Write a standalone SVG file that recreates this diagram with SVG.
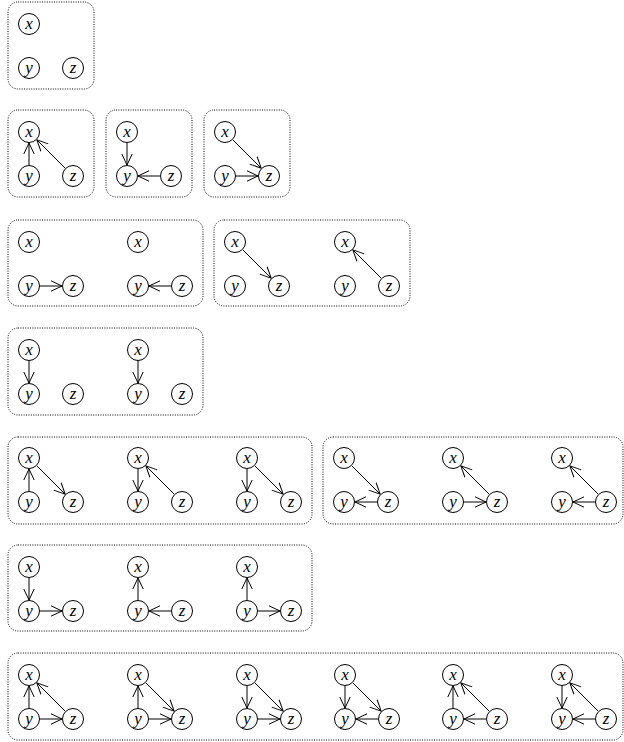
<svg xmlns="http://www.w3.org/2000/svg" width="624" height="742" viewBox="0 0 624 742">
<style>
.box{fill:none;stroke:#000;stroke-width:1;stroke-dasharray:1 1.4}
.n circle{fill:#fff;stroke:#000;stroke-width:1}
.n text{font-family:"Liberation Serif","Times New Roman",serif;font-style:italic;font-size:17px;text-anchor:middle;fill:#000}
.e line{stroke:#000;stroke-width:1;marker-end:url(#ah)}
</style>
<defs>
<marker id="ah" markerUnits="userSpaceOnUse" markerWidth="14" markerHeight="14" viewBox="0 0 14 14" refX="11" refY="7" orient="auto">
<path d="M0,1.8 L11,7 L0,12.2" fill="none" stroke="#000" stroke-width="1"/>
</marker>
<g id="nx" class="n"><circle cx="0" cy="0" r="10.5"/><text x="0" y="4.5" font-family="Liberation Serif, serif" font-style="italic">x</text></g>
<g id="ny" class="n"><circle cx="0" cy="44" r="10.5"/><text x="0" y="48.5" font-family="Liberation Serif, serif" font-style="italic">y</text></g>
<g id="nz" class="n"><circle cx="44" cy="44" r="10.5"/><text x="44" y="48.5" font-family="Liberation Serif, serif" font-style="italic">z</text></g>
</defs>

<g id="boxes">
<rect class="box" x="8" y="2" width="86" height="87" rx="10"/>
<rect class="box" x="8" y="110" width="86" height="87" rx="10"/>
<rect class="box" x="106" y="110" width="86" height="87" rx="10"/>
<rect class="box" x="204" y="110" width="86" height="87" rx="10"/>
<rect class="box" x="8" y="220" width="195" height="86" rx="10"/>
<rect class="box" x="214" y="220" width="196" height="86" rx="10"/>
<rect class="box" x="8" y="328" width="195" height="87" rx="10"/>
<rect class="box" x="8" y="437" width="304" height="87" rx="10"/>
<rect class="box" x="323" y="437" width="300" height="87" rx="10"/>
<rect class="box" x="8" y="545" width="304" height="86" rx="10"/>
<rect class="box" x="8" y="653" width="615" height="87" rx="10"/>
</g>

<g id="connectors" class="e">
<!-- row 2 -->
<g transform="translate(29,132)"><line x1="0" y1="33" x2="0" y2="11"/><line x1="36.2" y1="36.2" x2="7.8" y2="7.8"/></g>
<g transform="translate(127,132)"><line x1="0" y1="11" x2="0" y2="33"/><line x1="33" y1="44" x2="11" y2="44"/></g>
<g transform="translate(225,132)"><line x1="7.8" y1="7.8" x2="36.2" y2="36.2"/><line x1="11" y1="44" x2="33" y2="44"/></g>
<!-- row 3 -->
<g transform="translate(29,242)"><line x1="11" y1="44" x2="33" y2="44"/></g>
<g transform="translate(138,242)"><line x1="33" y1="44" x2="11" y2="44"/></g>
<g transform="translate(235,242)"><line x1="7.8" y1="7.8" x2="36.2" y2="36.2"/></g>
<g transform="translate(345,242)"><line x1="36.2" y1="36.2" x2="7.8" y2="7.8"/></g>
<!-- row 4 -->
<g transform="translate(29,350)"><line x1="0" y1="11" x2="0" y2="33"/></g>
<g transform="translate(138,350)"><line x1="0" y1="11" x2="0" y2="33"/></g>
<!-- row 5 -->
<g transform="translate(29,458)"><line x1="0" y1="33" x2="0" y2="11"/><line x1="7.8" y1="7.8" x2="36.2" y2="36.2"/></g>
<g transform="translate(138,458)"><line x1="0" y1="11" x2="0" y2="33"/><line x1="36.2" y1="36.2" x2="7.8" y2="7.8"/></g>
<g transform="translate(247,458)"><line x1="0" y1="11" x2="0" y2="33"/><line x1="7.8" y1="7.8" x2="36.2" y2="36.2"/></g>
<g transform="translate(344,458)"><line x1="7.8" y1="7.8" x2="36.2" y2="36.2"/><line x1="33" y1="44" x2="11" y2="44"/></g>
<g transform="translate(453,458)"><line x1="36.2" y1="36.2" x2="7.8" y2="7.8"/><line x1="11" y1="44" x2="33" y2="44"/></g>
<g transform="translate(562,458)"><line x1="36.2" y1="36.2" x2="7.8" y2="7.8"/><line x1="33" y1="44" x2="11" y2="44"/></g>
<!-- row 6 -->
<g transform="translate(29,567)"><line x1="0" y1="11" x2="0" y2="33"/><line x1="11" y1="44" x2="33" y2="44"/></g>
<g transform="translate(138,567)"><line x1="0" y1="33" x2="0" y2="11"/><line x1="33" y1="44" x2="11" y2="44"/></g>
<g transform="translate(247,567)"><line x1="0" y1="33" x2="0" y2="11"/><line x1="11" y1="44" x2="33" y2="44"/></g>
<!-- row 7 -->
<g transform="translate(29,675)"><line x1="0" y1="33" x2="0" y2="11"/><line x1="36.2" y1="36.2" x2="7.8" y2="7.8"/><line x1="11" y1="44" x2="33" y2="44"/></g>
<g transform="translate(138,675)"><line x1="0" y1="33" x2="0" y2="11"/><line x1="7.8" y1="7.8" x2="36.2" y2="36.2"/><line x1="11" y1="44" x2="33" y2="44"/></g>
<g transform="translate(247,675)"><line x1="0" y1="11" x2="0" y2="33"/><line x1="7.8" y1="7.8" x2="36.2" y2="36.2"/><line x1="11" y1="44" x2="33" y2="44"/></g>
<g transform="translate(345,675)"><line x1="0" y1="11" x2="0" y2="33"/><line x1="7.8" y1="7.8" x2="36.2" y2="36.2"/><line x1="33" y1="44" x2="11" y2="44"/></g>
<g transform="translate(453,675)"><line x1="0" y1="33" x2="0" y2="11"/><line x1="36.2" y1="36.2" x2="7.8" y2="7.8"/><line x1="33" y1="44" x2="11" y2="44"/></g>
<g transform="translate(562,675)"><line x1="0" y1="11" x2="0" y2="33"/><line x1="36.2" y1="36.2" x2="7.8" y2="7.8"/><line x1="33" y1="44" x2="11" y2="44"/></g>
</g>

<g id="nodes">
<g id="g1a" transform="translate(29,24)"><use id="g1a-x" href="#nx"/><use id="g1a-y" href="#ny"/><use id="g1a-z" href="#nz"/></g>
<g id="g2a" transform="translate(29,132)"><use id="g2a-x" href="#nx"/><use id="g2a-y" href="#ny"/><use id="g2a-z" href="#nz"/></g>
<g id="g2b" transform="translate(127,132)"><use id="g2b-x" href="#nx"/><use id="g2b-y" href="#ny"/><use id="g2b-z" href="#nz"/></g>
<g id="g2c" transform="translate(225,132)"><use id="g2c-x" href="#nx"/><use id="g2c-y" href="#ny"/><use id="g2c-z" href="#nz"/></g>
<g id="g3a" transform="translate(29,242)"><use id="g3a-x" href="#nx"/><use id="g3a-y" href="#ny"/><use id="g3a-z" href="#nz"/></g>
<g id="g3b" transform="translate(138,242)"><use id="g3b-x" href="#nx"/><use id="g3b-y" href="#ny"/><use id="g3b-z" href="#nz"/></g>
<g id="g3c" transform="translate(235,242)"><use id="g3c-x" href="#nx"/><use id="g3c-y" href="#ny"/><use id="g3c-z" href="#nz"/></g>
<g id="g3d" transform="translate(345,242)"><use id="g3d-x" href="#nx"/><use id="g3d-y" href="#ny"/><use id="g3d-z" href="#nz"/></g>
<g id="g4a" transform="translate(29,350)"><use id="g4a-x" href="#nx"/><use id="g4a-y" href="#ny"/><use id="g4a-z" href="#nz"/></g>
<g id="g4b" transform="translate(138,350)"><use id="g4b-x" href="#nx"/><use id="g4b-y" href="#ny"/><use id="g4b-z" href="#nz"/></g>
<g id="g5a" transform="translate(29,458)"><use id="g5a-x" href="#nx"/><use id="g5a-y" href="#ny"/><use id="g5a-z" href="#nz"/></g>
<g id="g5b" transform="translate(138,458)"><use id="g5b-x" href="#nx"/><use id="g5b-y" href="#ny"/><use id="g5b-z" href="#nz"/></g>
<g id="g5c" transform="translate(247,458)"><use id="g5c-x" href="#nx"/><use id="g5c-y" href="#ny"/><use id="g5c-z" href="#nz"/></g>
<g id="g5d" transform="translate(344,458)"><use id="g5d-x" href="#nx"/><use id="g5d-y" href="#ny"/><use id="g5d-z" href="#nz"/></g>
<g id="g5e" transform="translate(453,458)"><use id="g5e-x" href="#nx"/><use id="g5e-y" href="#ny"/><use id="g5e-z" href="#nz"/></g>
<g id="g5f" transform="translate(562,458)"><use id="g5f-x" href="#nx"/><use id="g5f-y" href="#ny"/><use id="g5f-z" href="#nz"/></g>
<g id="g6a" transform="translate(29,567)"><use id="g6a-x" href="#nx"/><use id="g6a-y" href="#ny"/><use id="g6a-z" href="#nz"/></g>
<g id="g6b" transform="translate(138,567)"><use id="g6b-x" href="#nx"/><use id="g6b-y" href="#ny"/><use id="g6b-z" href="#nz"/></g>
<g id="g6c" transform="translate(247,567)"><use id="g6c-x" href="#nx"/><use id="g6c-y" href="#ny"/><use id="g6c-z" href="#nz"/></g>
<g id="g7a" transform="translate(29,675)"><use id="g7a-x" href="#nx"/><use id="g7a-y" href="#ny"/><use id="g7a-z" href="#nz"/></g>
<g id="g7b" transform="translate(138,675)"><use id="g7b-x" href="#nx"/><use id="g7b-y" href="#ny"/><use id="g7b-z" href="#nz"/></g>
<g id="g7c" transform="translate(247,675)"><use id="g7c-x" href="#nx"/><use id="g7c-y" href="#ny"/><use id="g7c-z" href="#nz"/></g>
<g id="g7d" transform="translate(345,675)"><use id="g7d-x" href="#nx"/><use id="g7d-y" href="#ny"/><use id="g7d-z" href="#nz"/></g>
<g id="g7e" transform="translate(453,675)"><use id="g7e-x" href="#nx"/><use id="g7e-y" href="#ny"/><use id="g7e-z" href="#nz"/></g>
<g id="g7f" transform="translate(562,675)"><use id="g7f-x" href="#nx"/><use id="g7f-y" href="#ny"/><use id="g7f-z" href="#nz"/></g>
</g>
</svg>
